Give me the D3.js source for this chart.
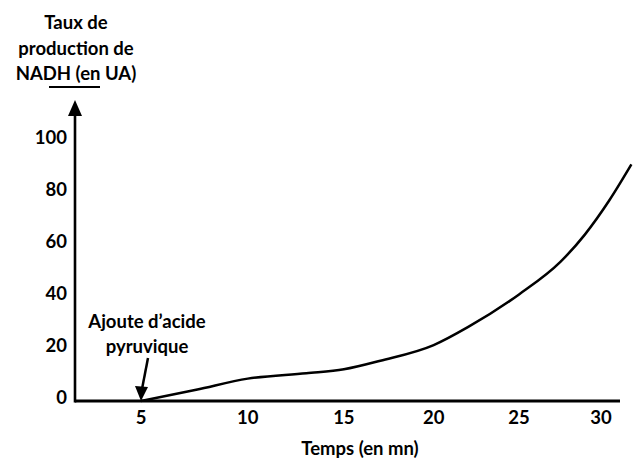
<!DOCTYPE html>
<html>
<head>
<meta charset="utf-8">
<script src="https://cdn.jsdelivr.net/npm/d3@7"></script>
<style>
  body { margin: 0; background: #fff; }
  svg text { font-family: Lato, "Noto Sans", sans-serif; font-weight: bold; font-size: 18.5px; fill: #000; }
</style>
</head>
<body>
<script>
/* data */
var xTicks = [5, 10, 15, 20, 25, 30];
var yTicks = [0, 20, 40, 60, 80, 100];
var times = [5, 7.5, 10, 13, 15, 17, 20, 22, 25, 27.5, 29, 30.5, 31.9];
var nadh = [0, 4.3, 8.6, 10.7, 12.2, 15.5, 21.5, 28.5, 41, 53.5, 64, 77, 91];
var titleLines = ['Taux de', 'production de', 'NADH (en UA)'];
var noteLines = ['Ajoute d\u2019acide', 'pyruvique'];
var xTitle = 'Temps (en mn)';

/* canvas */
var width = 639, height = 460;
var originX = 75, originY = 401;

var svg = d3.select('body').append('svg')
  .attr('width', width)
  .attr('height', height);

// x axis is drawn a bit compressed towards the right, a power scale fits it
var x = d3.scalePow().exponent(0.8).domain([5, 30]).range([141, 601]);
var y = d3.scaleLinear().domain([0, 100]).range([originY, 141]);

/* axes */
svg.append('line')
  .attr('x1', originX).attr('x2', 620)
  .attr('y1', originY).attr('y2', originY)
  .attr('stroke', '#000').attr('stroke-width', 3);

svg.append('line')
  .attr('x1', originX).attr('x2', originX)
  .attr('y1', originY + 1.5).attr('y2', 112)
  .attr('stroke', '#000').attr('stroke-width', 2.6);

svg.append('path')
  .attr('d', 'M' + originX + ',100 L' + (originX - 7) + ',116 L' + (originX + 7) + ',116 Z')
  .attr('fill', '#000');

svg.selectAll('.xlab').data(xTicks).enter().append('text')
  .attr('class', 'xlab')
  .attr('x', function (d) { return x(d); })
  .attr('y', 418)
  .attr('dy', '0.35em')
  .attr('text-anchor', 'middle')
  .text(function (d) { return d; });

svg.selectAll('.ylab').data(yTicks).enter().append('text')
  .attr('class', 'ylab')
  .attr('x', 67)
  .attr('y', function (d) { return y(d) - 3; })
  .attr('dy', '0.35em')
  .attr('text-anchor', 'end')
  .text(function (d) { return d; });

svg.append('text')
  .attr('x', 360).attr('y', 449).attr('dy', '0.35em')
  .attr('text-anchor', 'middle')
  .text(xTitle);

/* y title */
svg.selectAll('.ytitle').data(titleLines).enter().append('text')
  .attr('class', 'ytitle')
  .attr('x', 76)
  .attr('y', function (d, i) { return 23 + i * 25.5; })
  .attr('dy', '0.35em')
  .attr('text-anchor', 'middle')
  .text(function (d) { return d; });

svg.append('line')
  .attr('x1', 49).attr('x2', 100)
  .attr('y1', 87).attr('y2', 87)
  .attr('stroke', '#000').attr('stroke-width', 2);

/* curve */
var line = d3.line()
  .x(function (d) { return x(d[0]); })
  .y(function (d) { return y(d[1]); })
  .curve(d3.curveMonotoneX);

svg.append('path')
  .datum(d3.zip(times, nadh))
  .attr('d', line)
  .attr('fill', 'none')
  .attr('stroke', '#000')
  .attr('stroke-width', 2.5);

/* annotation */
svg.selectAll('.note').data(noteLines).enter().append('text')
  .attr('class', 'note')
  .attr('x', 147)
  .attr('y', function (d, i) { return 322 + i * 25; })
  .attr('dy', '0.35em')
  .attr('text-anchor', 'middle')
  .text(function (d) { return d; });

var tipX = x(5), tipY = y(0);
svg.append('line')
  .attr('x1', 148).attr('y1', 358)
  .attr('x2', tipX + 1).attr('y2', tipY - 12)
  .attr('stroke', '#000').attr('stroke-width', 2.5);

svg.append('path')
  .attr('d', 'M' + tipX + ',' + tipY + ' L' + (tipX - 6) + ',' + (tipY - 15) + ' L' + (tipX + 7) + ',' + (tipY - 14) + ' Z')
  .attr('fill', '#000');
</script>
</body>
</html>
